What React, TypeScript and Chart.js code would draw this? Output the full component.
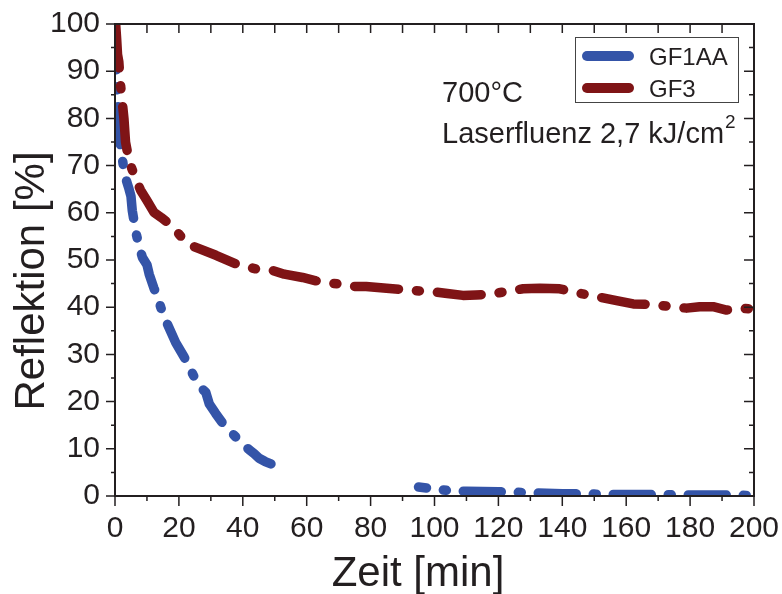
import React, { useEffect, useRef } from "react";
import { Chart, registerables } from "chart.js";

Chart.register(...registerables);

const timeGF1AA: (number)[] = [0.3, 0.6, 1.0, 1.3, 2.0, 2.6, 3.5, 4.4, 5.0, 5.4, 6.5, 7.5, 8.6, 10.0, 10.7, 12.2, 13.5, 14.3, 15.4, 17.0, 19.0, 21.6, 23.5, 25.3, 26.8, 28.4, 29.5, 31.5, 33.6, 35.7, 37.8, 40.0, 42.0, 43.5, 45.1, 47.0, 48.8, 70, 95, 100, 105, 110, 120, 130, 140, 150, 160, 170, 180, 190, 200];
const reflGF1AA: (number | null)[] = [92, 88, 82, 76, 73, 70, 67, 65, 63.5, 60.5, 56, 53, 50.5, 49, 47, 44, 42, 40, 38, 35.5, 32.5, 29.5, 27, 24.5, 23, 22, 19.5, 17.5, 15.5, 14, 12.5, 11, 9.8, 9, 8, 7.3, 6.8, null, 1.9, 1.5, 1.1, 1.0, 0.9, 0.7, 0.5, 0.4, 0.3, 0.3, 0.2, 0.2, 0.1];

const timeGF3: number[] = [0.2, 0.5, 0.8, 1.2, 1.6, 2.2, 2.8, 3.3, 4.4, 6.0, 8.0, 10.0, 12.2, 14.5, 16.4, 18.0, 20.0, 22.7, 26.3, 31.6, 37.8, 44.1, 49.3, 53.0, 58.7, 62.9, 66.0, 70.2, 73.4, 78.6, 85.0, 91.1, 96.0, 100.5, 104.0, 108.9, 113.0, 117.2, 121.4, 127.7, 133.0, 139.2, 145.0, 151.7, 157.0, 162.2, 167.4, 173.0, 178.9, 183.0, 187.2, 191.4, 195.5, 199.8];
const reflGF3: number[] = [100, 97, 93.5, 92, 88, 84, 80, 75, 71, 68, 64.8, 62.6, 60.1, 59, 58, 56.6, 55.5, 53.4, 52.4, 51, 49.2, 48.1, 47.8, 47.0, 46.3, 45.6, 45.2, 44.9, 44.4, 44.4, 44.0, 43.7, 43.4, 43.2, 42.9, 42.5, 42.6, 42.7, 43.2, 43.9, 44.0, 43.9, 43.0, 42.1, 41.4, 40.7, 40.6, 40.2, 39.8, 40.1, 40.1, 39.4, 39.8, 39.6];

const seriesNames = ["GF1AA", "GF3"];
const xTitle = "Zeit [min]";
const yTitle = "Reflektion [%]";
const noteLine1 = "700°C";
const noteLine2 = "Laserfluenz 2,7 kJ/cm";
const noteSup = "2";

const BLUE = "rgb(52,84,168)";
const RED = "rgb(127,20,22)";
const INK = "#231F20";
const FONT = "'Liberation Sans', Arial, sans-serif";

const framePlugin = {
  id: "framePlugin",
  afterDraw(chart: any) {
    const { ctx, chartArea } = chart;
    const xs = chart.scales.x;
    const ys = chart.scales.y;
    const { left, right, top, bottom } = chartArea;
    ctx.save();
    ctx.strokeStyle = INK;
    ctx.lineWidth = 2;
    ctx.strokeRect(left, top, right - left, bottom - top);
    ctx.lineWidth = 1.5;
    ctx.beginPath();
    for (let v = 0; v <= 200; v += 10) {
      const px = xs.getPixelForValue(v);
      const major = v % 20 === 0;
      ctx.moveTo(px, bottom);
      ctx.lineTo(px, bottom + (major ? 10 : 5));
      ctx.moveTo(px, top);
      ctx.lineTo(px, top + 9);
    }
    for (let v = 0; v <= 100; v += 5) {
      const py = ys.getPixelForValue(v);
      const major = v % 10 === 0;
      ctx.moveTo(left, py);
      ctx.lineTo(left - (major ? 9 : 4), py);
      ctx.moveTo(right, py);
      ctx.lineTo(right - (major ? 10 : 5), py);
    }
    ctx.stroke();

    // titles
    ctx.fillStyle = INK;
    ctx.font = `42px ${FONT}`;
    ctx.textAlign = "center";
    ctx.textBaseline = "alphabetic";
    ctx.fillText(xTitle, 418, 586);
    ctx.save();
    ctx.translate(44, 281);
    ctx.rotate(-Math.PI / 2);
    ctx.fillText(yTitle, 0, 0);
    ctx.restore();

    // annotations
    ctx.textAlign = "left";
    ctx.font = `29px ${FONT}`;
    ctx.fillText(noteLine1, 442, 102);
    ctx.fillText(noteLine2, 442, 143);
    const w = ctx.measureText(noteLine2).width;
    ctx.font = `19px ${FONT}`;
    ctx.fillText(noteSup, 442 + w + 1, 128);

    // legend
    ctx.lineWidth = 1;
    ctx.strokeStyle = "#444";
    ctx.strokeRect(575.5, 37.5, 163, 65);
    const colors = chart.data.datasets.map((d: any) => d.borderColor);
    const rows = [56, 88];
    ctx.font = `24px ${FONT}`;
    ctx.lineCap = "round";
    seriesNames.forEach((name, i) => {
      ctx.strokeStyle = colors[i];
      ctx.lineWidth = 10;
      ctx.beginPath();
      ctx.moveTo(587, rows[i]);
      ctx.lineTo(629, rows[i]);
      ctx.stroke();
      ctx.fillStyle = INK;
      ctx.fillText(name, 649, rows[i] + 9);
    });
    ctx.restore();
  },
};

export default function App() {
  const ref = useRef<HTMLCanvasElement>(null);
  useEffect(() => {
    if (!ref.current) return;
    const blueData = timeGF1AA.map((t, i) => ({ x: t, y: reflGF1AA[i] }));
    const redData = timeGF3.map((t, i) => ({ x: t, y: reflGF3[i] }));
    const chart = new Chart(ref.current, {
      type: "line",
      data: {
        datasets: [
          {
            label: seriesNames[0],
            data: blueData as any,
            borderColor: BLUE,
            backgroundColor: BLUE,
            borderWidth: 9.5,
            borderCapStyle: "round",
            borderJoinStyle: "round",
            borderDash: [38, 17, 3, 17],
            borderDashOffset: 30,
            pointRadius: 0,
            spanGaps: false,
            order: 1,
          },
          {
            label: seriesNames[1],
            data: redData as any,
            borderColor: RED,
            backgroundColor: RED,
            borderWidth: 9.5,
            borderCapStyle: "round",
            borderJoinStyle: "round",
            borderDash: [44, 18, 3, 18],
            pointRadius: 0,
            order: 0,
          },
        ],
      },
      options: {
        responsive: false,
        animation: false,
        layout: { padding: { top: 24, right: 28, left: 0, bottom: 0 } },
        plugins: { legend: { display: false }, tooltip: { enabled: false } },
        scales: {
          x: {
            type: "linear",
            min: 0,
            max: 200,
            afterFit: (s: any) => {
              s.height = 98;
              s.paddingRight = 0;
              s.paddingLeft = 0;
            },
            ticks: {
              stepSize: 20,
              padding: 6,
              color: INK,
              font: { family: FONT, size: 30 },
              maxRotation: 0,
            },
            grid: { drawOnChartArea: false, drawTicks: true, tickLength: 9, color: "rgba(0,0,0,0)" },
            border: { display: false },
          },
          y: {
            type: "linear",
            min: 0,
            max: 100,
            afterFit: (s: any) => {
              s.width = 115;
              s.paddingTop = 0;
              s.paddingBottom = 0;
            },
            ticks: {
              stepSize: 10,
              padding: 6,
              color: INK,
              font: { family: FONT, size: 30 },
            },
            grid: { drawOnChartArea: false, drawTicks: true, tickLength: 9, color: "rgba(0,0,0,0)" },
            border: { display: false },
          },
        },
      },
      plugins: [framePlugin],
    });
    return () => chart.destroy();
  }, []);
  return (
    <div style={{ position: "absolute", left: 0, top: 0, width: 782, height: 594, background: "#fff" }}>
      <canvas ref={ref} width={782} height={594} />
    </div>
  );
}
